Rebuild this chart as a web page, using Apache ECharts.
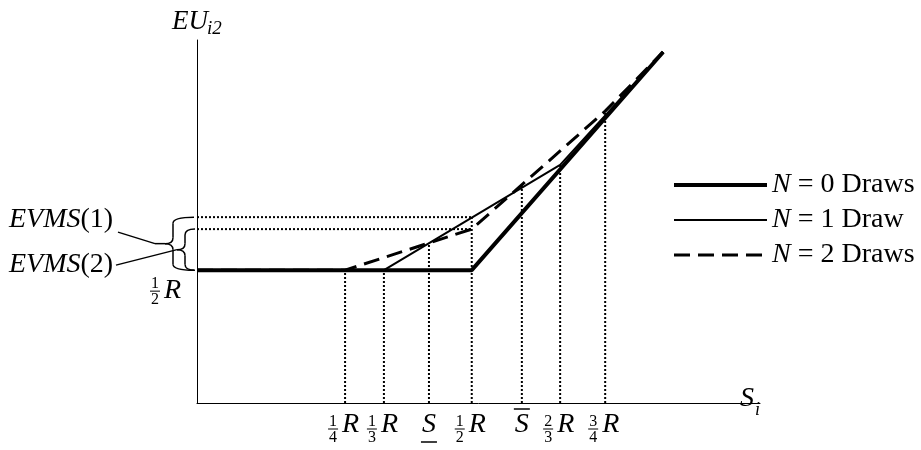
<!DOCTYPE html>
<html>
<head>
<meta charset="utf-8">
<script src="https://cdn.jsdelivr.net/npm/echarts@6/dist/echarts.min.js"></script>
<style>
  html, body { margin: 0; padding: 0; background: #fff; }
  #chart { width: 921px; height: 450px; }
</style>
</head>
<body>
<div id="chart"></div>
<script>
// values, both axes in units 0..100
const n0Points = [[0, 36.6], [48.8, 36.6], [82.8, 96.7]]
const n1Points = [[0, 36.6], [33.2, 36.6], [64.5, 65.6], [82.8, 96.7]]
const n2Points = [[0, 36.6], [26.3, 36.6], [48.8, 47.9], [72.5, 80.4], [82.8, 96.7]]
const seriesNames = ['N = 0 Draws', 'N = 1 Draw', 'N = 2 Draws']

// dotted guides: x position and the height they reach
const tickPos = [26.3, 33.2, 41.2, 48.8, 57.7, 64.5, 72.5]
const tickTop = [36.6, 36.6, 44.1, 51.2, 60.1, 65.6, 80.4]
const tickLabels = [['1', '4'], ['1', '3'], 'under', ['1', '2'], 'over', ['2', '3'], ['3', '4']]

const halfR = 36.6
const evmsLevels = [51.2, 47.9] // EVMS(1), EVMS(2)
const evmsEnd = 48.8

const FONT = 'Liberation Serif'
const chart = echarts.init(document.getElementById('chart'))

// dotted guide lines
const guideSeries = []
tickPos.forEach((x, i) => {
  guideSeries.push({
    type: 'line', symbol: 'none', silent: true, z: 1,
    data: [[x, 0], [x, tickTop[i]]],
    lineStyle: { color: '#000', width: 2, type: [2, 2] }
  })
})
evmsLevels.forEach((y) => {
  guideSeries.push({
    type: 'line', symbol: 'none', silent: true, z: 1,
    data: [[0, y], [evmsEnd, y]],
    lineStyle: { color: '#000', width: 2, type: [2, 2] }
  })
})

const option = {
  animation: false,
  grid: { left: 197, right: 161, top: 40, bottom: 47 },
  xAxis: {
    type: 'value', min: 0, max: 100,
    splitLine: { show: false }, axisTick: { show: false }, axisLabel: { show: false },
    axisLine: { lineStyle: { color: '#000', width: 1 } }
  },
  yAxis: {
    type: 'value', min: 0, max: 100,
    splitLine: { show: false }, axisTick: { show: false }, axisLabel: { show: false },
    axisLine: { lineStyle: { color: '#000', width: 1 } }
  },
  legend: {
    data: seriesNames,
    orient: 'vertical',
    left: 672, top: 171,
    itemWidth: 93, itemHeight: 16, itemGap: 7,
    padding: 0,
    selectedMode: false,
    itemStyle: { opacity: 0 },
    lineStyle: { width: 'inherit' },
    formatter: (name) => '{i|N}{t|' + name.slice(1) + '}',
    textStyle: {
      color: '#000',
      rich: {
        i: { fontFamily: FONT, fontStyle: 'italic', fontSize: 28, lineHeight: 22, color: '#000' },
        t: { fontFamily: FONT, fontSize: 28, lineHeight: 22, color: '#000' }
      }
    }
  },
  series: [
    ...guideSeries,
    {
      name: seriesNames[1], type: 'line', symbol: 'none', z: 3,
      data: n1Points,
      lineStyle: { color: '#000', width: 2 }
    },
    {
      name: seriesNames[2], type: 'line', symbol: 'none', z: 4,
      data: n2Points,
      lineStyle: { color: '#000', width: 3, type: [16, 8] }
    },
    {
      name: seriesNames[0], type: 'line', symbol: 'none', z: 5,
      data: n0Points,
      lineStyle: { color: '#000', width: 4 }
    }
  ]
}
chart.setOption(option)

// ---- annotation text and braces ----
const px = (x, y) => chart.convertToPixel({ gridIndex: 0 }, [x, y])

function text(x, y, str, size, italic, align, vAlign) {
  return {
    type: 'text', x: x, y: y, z: 10,
    style: {
      text: str, fontFamily: FONT, fontSize: size,
      fontStyle: italic ? 'italic' : 'normal', fill: '#000',
      align: align || 'left', verticalAlign: vAlign || 'middle'
    }
  }
}
function line(x1, y1, x2, y2, w) {
  return {
    type: 'line', z: 10,
    shape: { x1: x1, y1: y1, x2: x2, y2: y2 },
    style: { stroke: '#000', lineWidth: w || 1 }
  }
}
function curve(x1, y1, cx, cy, x2, y2) {
  return {
    type: 'bezierCurve', z: 10,
    shape: { x1: x1, y1: y1, cpx1: cx, cpy1: cy, x2: x2, y2: y2 },
    style: { stroke: '#000', lineWidth: 1.5, fill: null }
  }
}
function fraction(cx, cy, num, den) {
  return [
    text(cx, cy + 1, num, 16, false, 'center', 'bottom'),
    line(cx - 5, cy, cx + 5, cy, 1),
    text(cx, cy + 1, den, 16, false, 'center', 'top')
  ]
}
// left-facing curly brace
function brace(xEnd, xStem, xTip, y1, y2) {
  const ym = (y1 + y2) / 2
  const r = 6
  return [
    curve(xEnd, y1, xStem, y1, xStem, y1 + r),
    line(xStem, y1 + r, xStem, ym - r, 1.5),
    curve(xStem, ym - r, xStem, ym, xTip, ym),
    curve(xTip, ym, xStem, ym, xStem, ym + r),
    line(xStem, ym + r, xStem, y2 - r, 1.5),
    curve(xStem, y2 - r, xStem, y2, xEnd, y2)
  ]
}

const g = []
const origin = px(0, 0)
const axisY = origin[1]
const axisX = origin[0]

tickPos.forEach((x, i) => {
  const tx = px(x, 0)[0]
  const lab = tickLabels[i]
  if (Array.isArray(lab)) {
    g.push(...fraction(tx - 12, axisY + 26, lab[0], lab[1]))
    g.push(text(tx - 3, axisY + 22, 'R', 28, true, 'left', 'middle'))
  } else {
    g.push(text(tx, axisY + 22, 'S', 28, true, 'center', 'middle'))
    if (lab === 'under') g.push(line(tx - 8, axisY + 39, tx + 8, axisY + 39, 1.5))
    else g.push(line(tx - 8, axisY + 6, tx + 8, axisY + 6, 1.5))
  }
})

// axis titles
g.push(text(axisX - 25, 22, 'EU', 27, true, 'left', 'middle'))
g.push(text(axisX + 10, 29, 'i2', 19, true, 'left', 'middle'))
g.push(text(740, axisY - 4, 'S', 28, true, 'left', 'middle'))
g.push(text(755, axisY + 7, 'i', 18, true, 'left', 'middle'))

// 1/2 R on the vertical axis
const yHalf = px(0, halfR)[1]
g.push(...fraction(axisX - 42, yHalf + 21, '1', '2'))
g.push(text(axisX - 33, yHalf + 20, 'R', 28, true, 'left', 'middle'))

// braces for EVMS(1) and EVMS(2)
const y1 = px(0, evmsLevels[0])[1]
const y2 = px(0, evmsLevels[1])[1]
const m1 = (y1 + yHalf) / 2
const m2 = (y2 + yHalf) / 2
g.push(...brace(axisX - 3, axisX - 24, axisX - 32, y1, yHalf))
g.push(...brace(axisX - 2, axisX - 12, axisX - 20, y2, yHalf))
g.push(line(axisX - 32, m1, axisX - 42, m1, 1.5))
g.push(line(axisX - 42, m1, 118, y1 + 15, 1.5))
g.push(line(axisX - 20, m2, 116, yHalf - 5, 1.5))
const evmsRich = {
  i: { fontFamily: FONT, fontSize: 28, fontStyle: 'italic', fill: '#000' },
  n: { fontFamily: FONT, fontSize: 28, fill: '#000' }
}
g.push({
  type: 'text', x: 9, y: y1 + 2, z: 10,
  style: { text: '{i|EVMS}{n|(1)}', verticalAlign: 'middle', rich: evmsRich }
})
g.push({
  type: 'text', x: 9, y: yHalf - 6, z: 10,
  style: { text: '{i|EVMS}{n|(2)}', verticalAlign: 'middle', rich: evmsRich }
})

chart.setOption({ graphic: g })
</script>
</body>
</html>
